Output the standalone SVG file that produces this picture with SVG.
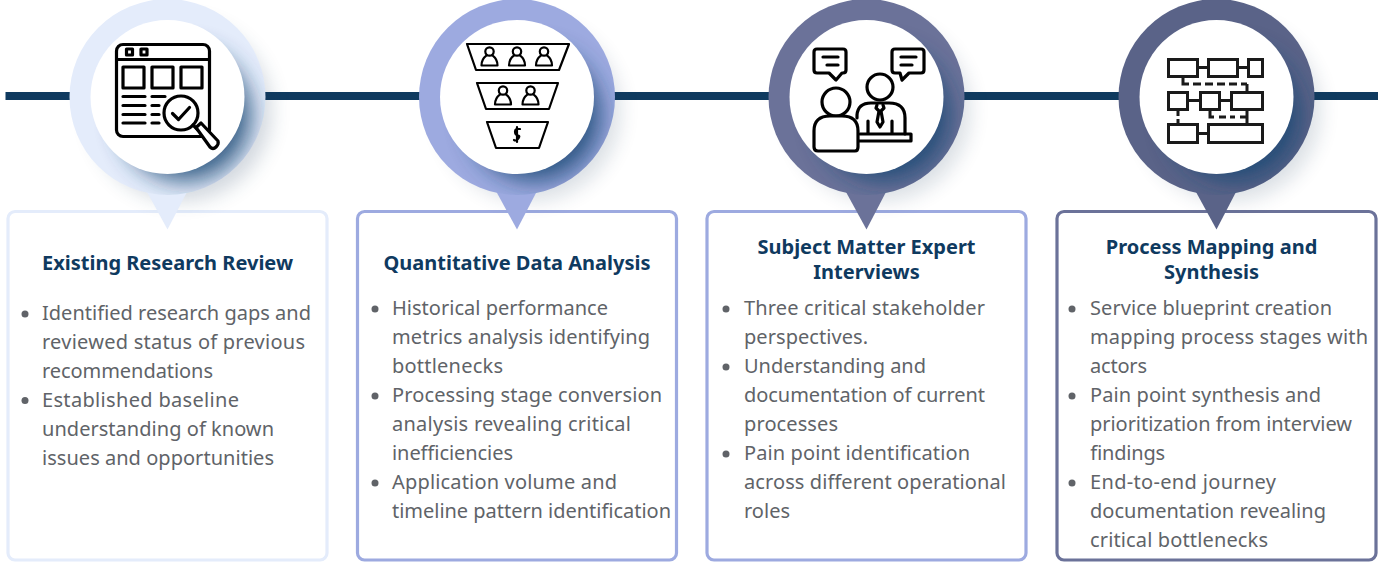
<svg xmlns="http://www.w3.org/2000/svg" width="1383" height="563" viewBox="0 0 1383 563">
<style>
.card{fill:#fff;stroke-width:3.2}
.t{font:700 20px "Noto Sans",sans-serif;fill:#0f3a5f;text-anchor:middle}
.b{font:400 20px "Noto Sans",sans-serif;fill:#606368}
.dot{fill:#606368}
.i{fill:none;stroke:#000;stroke-width:3.2;stroke-linejoin:round;stroke-linecap:round}
.f{fill:none;stroke:#000;stroke-width:2.200;stroke-linejoin:round;stroke-linecap:round}
.i2{fill:none;stroke:#1a1a1a;stroke-width:3;stroke-linejoin:miter}
.sh{fill:#1f4a75;opacity:.88}
</style>
<defs>
<filter id="bl" x="-50%" y="-50%" width="200%" height="200%"><feGaussianBlur stdDeviation="12"/></filter>
<filter id="bo" x="-50%" y="-50%" width="200%" height="200%"><feGaussianBlur stdDeviation="10"/></filter>
<clipPath id="c1"><circle cx="167.500" cy="97" r="98"/></clipPath>
<clipPath id="c2"><circle cx="517" cy="97" r="98"/></clipPath>
<clipPath id="c3"><circle cx="866.500" cy="97" r="98"/></clipPath>
<clipPath id="c4"><circle cx="1216.500" cy="97" r="98"/></clipPath>
<g id="person"><circle cx="0" cy="-6.500" r="4.200"/><path d="M-8 7.500C-8 1 -5 -1 -3 -2.500M3 -2.500C5 -1 8 1 8 7.500H-8"/></g>
</defs>
<g id="connectors"><rect x="5.500" y="92" width="1372.500" height="8" fill="#0f3a5f"/></g>

<g id="card1"><rect class="card" x="8" y="211.500" width="319" height="348.500" rx="7" stroke="#e4ecfb"/>
<text class="t" x="167.500" y="270">Existing Research Review</text>
<circle class="dot" cx="25" cy="314" r="3.500"/><circle class="dot" cx="25" cy="400.500" r="3.500"/>
<text class="b"><tspan x="42" y="320" textLength="269">Identified research gaps and</tspan><tspan x="42" y="349" textLength="263">reviewed status of previous</tspan><tspan x="42" y="378" textLength="171">recommendations</tspan><tspan x="42" y="407" textLength="197">Established baseline</tspan><tspan x="42" y="436" textLength="232">understanding of known</tspan><tspan x="42" y="465" textLength="232">issues and opportunities</tspan></text></g>

<g id="card2"><rect class="card" x="357.500" y="211.500" width="319" height="348.500" rx="7" stroke="#9daae0"/>
<text class="t" x="517" y="270">Quantitative Data Analysis</text>
<circle class="dot" cx="375" cy="309" r="3.500"/><circle class="dot" cx="375" cy="396" r="3.500"/><circle class="dot" cx="375" cy="483" r="3.500"/>
<text class="b"><tspan x="392" y="315" textLength="216">Historical performance</tspan><tspan x="392" y="344" textLength="258">metrics analysis identifying</tspan><tspan x="392" y="373" textLength="111">bottlenecks</tspan><tspan x="392" y="402" textLength="270">Processing stage conversion</tspan><tspan x="392" y="431" textLength="239">analysis revealing critical</tspan><tspan x="392" y="460" textLength="121">inefficiencies</tspan><tspan x="392" y="489" textLength="225">Application volume and</tspan><tspan x="392" y="518" textLength="279">timeline pattern identification</tspan></text></g>

<g id="card3"><rect class="card" x="707" y="211.500" width="319" height="348.500" rx="7" stroke="#9daae0"/>
<text class="t"><tspan x="866.500" y="254">Subject Matter Expert</tspan><tspan x="866.500" y="279">Interviews</tspan></text>
<circle class="dot" cx="726" cy="309" r="3.500"/><circle class="dot" cx="726" cy="367" r="3.500"/><circle class="dot" cx="726" cy="454" r="3.500"/>
<text class="b"><tspan x="744" y="315" textLength="241">Three critical stakeholder</tspan><tspan x="744" y="344" textLength="124">perspectives.</tspan><tspan x="744" y="373" textLength="182">Understanding and</tspan><tspan x="744" y="402" textLength="241">documentation of current</tspan><tspan x="744" y="431" textLength="94">processes</tspan><tspan x="744" y="460" textLength="226">Pain point identification</tspan><tspan x="744" y="489" textLength="262">across different operational</tspan><tspan x="744" y="518" textLength="46">roles</tspan></text></g>

<g id="card4"><rect class="card" x="1057" y="211.500" width="319" height="348.500" rx="7" stroke="#6b7299"/>
<text class="t"><tspan x="1211.500" y="254">Process Mapping and</tspan><tspan x="1211.500" y="279">Synthesis</tspan></text>
<circle class="dot" cx="1072" cy="309" r="3.500"/><circle class="dot" cx="1072" cy="396" r="3.500"/><circle class="dot" cx="1072" cy="483" r="3.500"/>
<text class="b"><tspan x="1090" y="315" textLength="242">Service blueprint creation</tspan><tspan x="1090" y="344" textLength="278">mapping process stages with</tspan><tspan x="1090" y="373" textLength="57">actors</tspan><tspan x="1090" y="402" textLength="231">Pain point synthesis and</tspan><tspan x="1090" y="431" textLength="262">prioritization from interview</tspan><tspan x="1090" y="460" textLength="75">findings</tspan><tspan x="1090" y="489" textLength="186">End-to-end journey</tspan><tspan x="1090" y="518" textLength="236">documentation revealing</tspan><tspan x="1090" y="547" textLength="178">critical bottlenecks</tspan></text></g>

<g id="pin1"><circle cx="181" cy="111" r="90" fill="#1a3a5c" opacity=".2" filter="url(#bo)"/>
<path d="M147 192L167.500 229.500L187 192Z" fill="#e4ecfb"/><circle cx="167.500" cy="97" r="98" fill="#e4ecfb"/>
<g clip-path="url(#c1)"><circle class="sh" cx="185" cy="115" r="66" filter="url(#bl)"/></g>
<circle cx="167.500" cy="97" r="77" fill="#fff"/>
<g class="i"><rect x="116.500" y="44.500" width="93" height="92" rx="6.500"/><path d="M117 59.500H209"/><rect x="126.500" y="49" width="6" height="6"/><rect x="141" y="49" width="6" height="6"/><rect x="123" y="67" width="21" height="21"/><rect x="152" y="67" width="21" height="21"/><rect x="181" y="67" width="21" height="21"/><path d="M123 96.500H145M123 105.500H145M123 114.500H145M123 123H145M152 96.500H165M152 105.500H159M152 114.500H159M152 123H159"/><circle cx="181" cy="113" r="17" fill="#fff"/><path d="M172.500 113.500L178.500 119.500L189.500 107.500"/><path d="M193 125L198 130" /><path d="M196 127.500L201 123L218 141Q219 144 216 147T210 147Z" fill="#fff"/></g></g>

<g id="pin2"><circle cx="530" cy="111" r="90" fill="#1a3a5c" opacity=".16" filter="url(#bo)"/>
<path d="M496.500 192L517 229.500L536.500 192Z" fill="#9daae0"/><circle cx="517" cy="97" r="98" fill="#9daae0"/>
<g clip-path="url(#c2)"><circle class="sh" cx="534.500" cy="115" r="66" filter="url(#bl)"/></g>
<circle cx="517" cy="97" r="77" fill="#fff"/>
<g class="f"><path d="M467 44H569L559 70H476Z"/><path d="M477 83H558L549 109H486Z"/><path d="M487 122H548L539 148H496Z"/>
<use href="#person" x="489.500" y="58"/><use href="#person" x="517" y="58"/><use href="#person" x="544" y="58"/><use href="#person" x="503" y="97"/><use href="#person" x="530.500" y="97"/>
<path d="M520 129Q515 128 515 131.500T518 135.500T517 140Q515 141 514 140M517 127V142"/></g></g>

<g id="pin3"><circle cx="880" cy="111" r="90" fill="#1a3a5c" opacity=".16" filter="url(#bo)"/>
<path d="M846 192L866.500 229.500L886 192Z" fill="#6b7299"/><circle cx="866.500" cy="97" r="98" fill="#6b7299"/>
<g clip-path="url(#c3)"><circle class="sh" cx="884" cy="115" r="66" filter="url(#bl)"/></g>
<circle cx="866.500" cy="97" r="77" fill="#fff"/>
<g class="i"><path d="M817 49H843Q846 49 846 52V70Q846 73 843 73H842L836 80L829 73H817Q814 73 814 70V52Q814 49 817 49Z"/><path d="M823 57H838M827 65H838"/>
<path d="M895 49H921Q924 49 924 52V70Q924 73 921 73H909L902 80L900 73H895Q892 73 892 70V52Q892 49 895 49Z"/><path d="M901 57H916M901 65H912"/>
<circle cx="880" cy="87" r="13"/><path d="M857 118V115Q858 103 871 103H889Q905 103 905 118V134"/><path d="M877 105L876 108L879 111L877 122L880 127L883 122L881 111L884 108L883 105"/><path d="M868 121V133M892 121V133"/><path d="M860 134H911V141H859"/>
<circle cx="836" cy="102" r="14" fill="#fff"/><path d="M814 135V131Q814 116 830 116H842Q858 116 858 131V147Q858 151 855 151H818Q814 151 814 147Z" fill="#fff"/></g></g>

<g id="pin4"><circle cx="1230" cy="111" r="90" fill="#1a3a5c" opacity=".16" filter="url(#bo)"/>
<path d="M1196 192L1216.500 229.500L1236 192Z" fill="#5a6388"/><circle cx="1216.500" cy="97" r="98" fill="#5a6388"/>
<g clip-path="url(#c4)"><circle class="sh" cx="1234" cy="115" r="66" filter="url(#bl)"/></g>
<circle cx="1216.500" cy="97" r="77" fill="#fff"/>
<g class="i2"><rect x="1168.500" y="59.500" width="29" height="17"/><rect x="1208.500" y="59.500" width="29" height="17"/><rect x="1248.500" y="59.500" width="14" height="17"/><path d="M1198 67.500H1208M1238 67.500H1248"/>
<rect x="1168.500" y="92.500" width="19" height="17"/><rect x="1200.500" y="92.500" width="19" height="17"/><rect x="1231.500" y="92.500" width="31" height="17"/><path d="M1188 100.500H1200M1220 100.500H1231"/>
<rect x="1168.500" y="124.500" width="29" height="18"/><rect x="1208.500" y="124.500" width="54" height="18"/><path d="M1198 133.500H1208"/>
<path d="M1183 77V84H1189M1193 84H1201M1205 84H1213M1217 84H1225M1229 84H1237M1247 84V92M1241 84H1247" /><path d="M1178 110V116M1178 119V124M1210 110V117H1214M1219 117H1226M1230 117H1235M1247 110V124M1240 117H1247"/></g></g>
</svg>
